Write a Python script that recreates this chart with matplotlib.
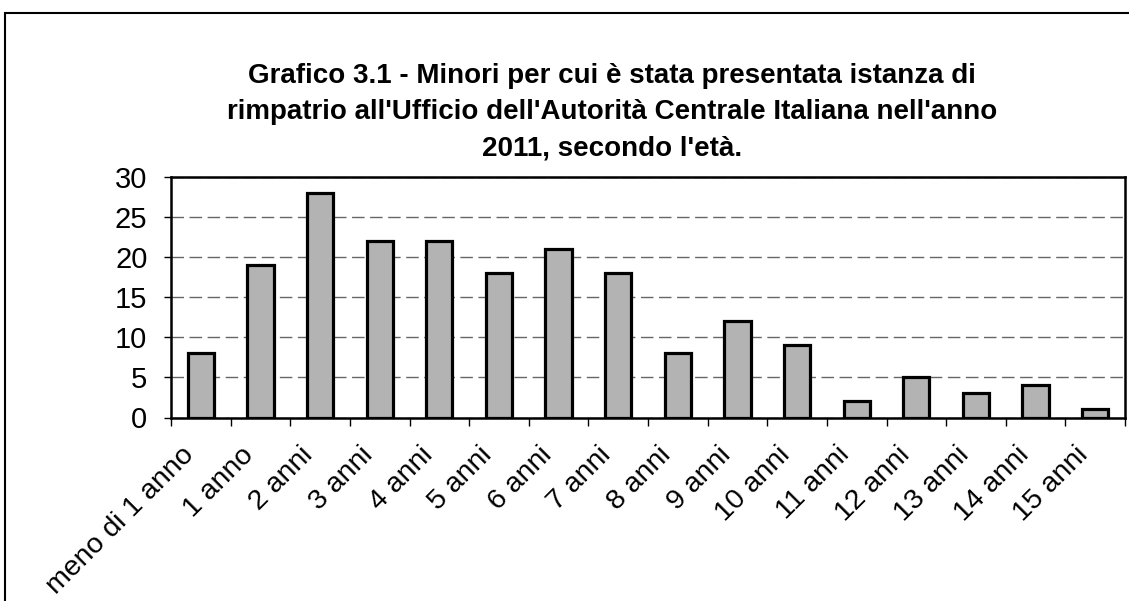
import matplotlib
matplotlib.use("Agg")
import matplotlib.pyplot as plt
from matplotlib.patches import Rectangle
from matplotlib.transforms import ScaledTranslation
import numpy as np

categories = ["meno di 1 anno", "1 anno", "2 anni", "3 anni", "4 anni", "5 anni",
              "6 anni", "7 anni", "8 anni", "9 anni", "10 anni", "11 anni",
              "12 anni", "13 anni", "14 anni", "15 anni"]
values = [8, 19, 28, 22, 22, 18, 21, 18, 8, 12, 9, 2, 5, 3, 4, 1]
y_ticks = [0, 5, 10, 15, 20, 25, 30]
title = ("Grafico 3.1 - Minori per cui è stata presentata istanza di\n"
         "rimpatrio all'Ufficio dell'Autorità Centrale Italiana nell'anno\n"
         "2011, secondo l'età.")

W, H = 1129, 601
fig = plt.figure(figsize=(W / 100, H / 100), dpi=100)
fig.patch.set_facecolor("white")

# outer frame
fig.add_artist(Rectangle((5 / W, -0.05), 1.2, (H - 13) / H + 0.05,
                         transform=fig.transFigure, fill=False,
                         edgecolor="black", linewidth=1.5))

ax = fig.add_axes([171 / W, 1 - 417.5 / H, (1125 - 171) / W, (417.5 - 177) / H])
x = np.arange(len(categories))
ax.bar(x, values, width=0.44, color="#b3b3b3", edgecolor="black",
       linewidth=2.3, zorder=3)
ax.set_xlim(-0.5, len(categories) - 0.5)
ax.set_ylim(0, 30)
ax.set_yticks(y_ticks)
ax.set_yticklabels([str(v) for v in y_ticks], fontsize=21,
                   family="Liberation Sans")
ax.set_xticks(x)
ax.set_xticklabels(categories, rotation=45, ha="right",
                   rotation_mode="anchor", fontsize=20.5,
                   family="Liberation Sans")
ax.tick_params(axis="x", which="major", length=0, pad=16)
offset = ScaledTranslation(-0.20, -0.02, fig.dpi_scale_trans)
for lbl in ax.get_xticklabels():
    lbl.set_transform(lbl.get_transform() + offset)
ax.set_xticks(np.arange(-0.5, len(categories), 1), minor=True)
ax.tick_params(axis="x", which="minor", length=6, width=1, direction="out")
ax.tick_params(axis="y", length=5, width=1, direction="out", pad=12)
ax.grid(axis="y", linestyle=(0, (9, 4)), color="#666666", linewidth=1,
        zorder=0)
for s in ax.spines.values():
    s.set_linewidth(1.8)
    s.set_color("black")

fig.text(612 / W, 1 - 112 / H, title, ha="center", va="center",
         fontsize=20, fontweight="bold", family="Liberation Sans",
         linespacing=1.5)

fig.savefig("out.png", dpi=100)
